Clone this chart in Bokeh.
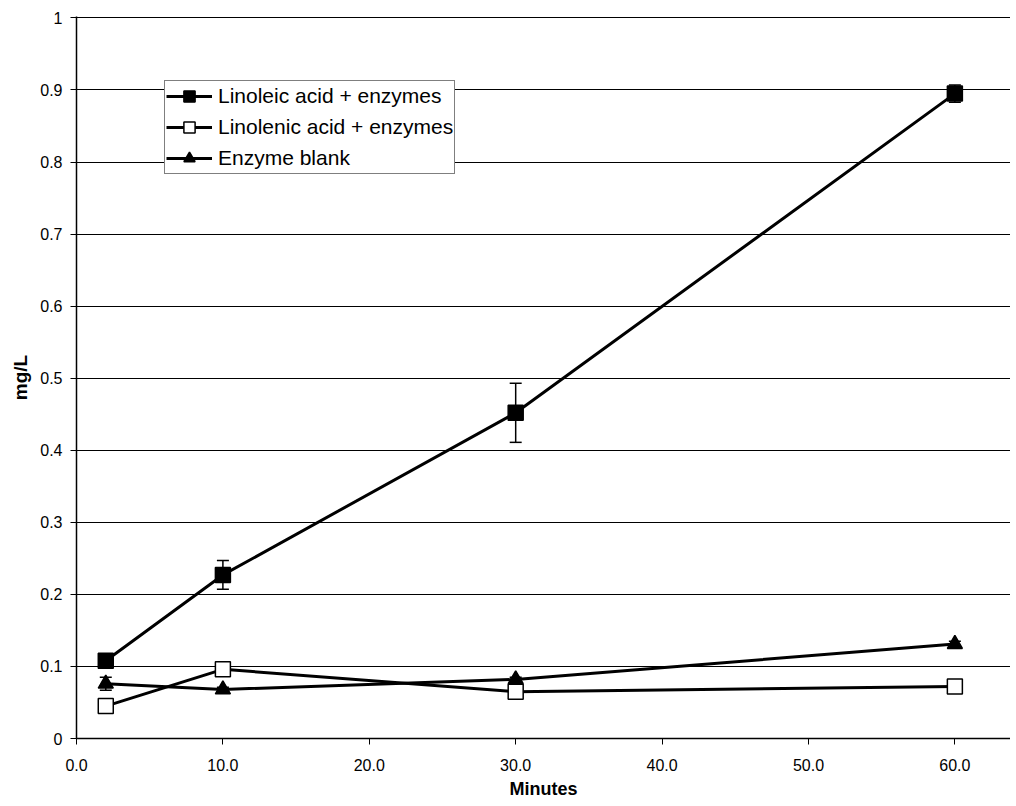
from bokeh.plotting import figure
from bokeh.models import (ColumnDataSource, Whisker, TeeHead, Legend, LegendItem,
                          Range1d, FixedTicker, NumeralTickFormatter)
from bokeh.embed import file_html
from bokeh.resources import INLINE

# ---- data ----
minutes = [2, 10, 30, 60]
linoleic = [0.108, 0.227, 0.452, 0.895]
linoleic_err = [0.004, 0.020, 0.041, 0.012]
linolenic = [0.045, 0.096, 0.065, 0.072]
linolenic_err = [0.003, 0.003, 0.003, 0.003]
blank = [0.076, 0.068, 0.082, 0.131]
blank_err = [0.009, 0.003, 0.003, 0.004]

series_names = ["Linoleic acid + enzymes", "Linolenic acid + enzymes", "Enzyme blank"]
x_title = "Minutes"
y_title = "mg/L"
x_ticks = [0, 10, 20, 30, 40, 50, 60]
y_ticks = [0, 0.1, 0.2, 0.3, 0.4, 0.5, 0.6, 0.7, 0.8, 0.9, 1.0]

FONT = "Liberation Sans"

p = figure(width=1010, height=802, output_backend="svg", toolbar_location=None,
           x_range=Range1d(0, 63.8), y_range=Range1d(0, 1.002),
           min_border_left=76, min_border_right=0, min_border_top=16,
           min_border_bottom=64)
p.outline_line_color = None
p.background_fill_color = "white"
p.border_fill_color = "white"

p.xgrid.visible = False
p.ygrid.ticker = FixedTicker(ticks=y_ticks)
p.ygrid.grid_line_color = "black"
p.ygrid.grid_line_width = 1

p.xaxis.ticker = FixedTicker(ticks=x_ticks)
p.xaxis.formatter = NumeralTickFormatter(format="0.0")
p.yaxis.ticker = FixedTicker(ticks=y_ticks)
p.yaxis.formatter = NumeralTickFormatter(format="0.[0]")

for ax in (p.xaxis[0], p.yaxis[0]):
    ax.axis_line_color = "black"
    ax.axis_line_width = 1.5
    ax.major_tick_line_color = "black"
    ax.major_tick_line_width = 1
    ax.major_tick_out = 6
    ax.major_tick_in = 0
    ax.minor_tick_line_color = None
    ax.major_label_text_font = FONT
    ax.major_label_text_font_size = "16px"
    ax.major_label_text_color = "black"
    ax.axis_label_text_font = FONT
    ax.axis_label_text_font_size = "18px"
    ax.axis_label_text_font_style = "bold"
    ax.axis_label_text_color = "black"

p.xaxis.axis_label = x_title
p.xaxis.major_label_standoff = 14
p.xaxis.axis_label_standoff = 5
p.yaxis.axis_label = y_title
p.yaxis.axis_label_text_font_size = "19px"
p.yaxis.major_label_standoff = 8
p.yaxis.axis_label_standoff = 6

def add_series(vals, errs, marker, fill):
    src = ColumnDataSource(dict(x=minutes, y=vals,
                                upper=[v + e for v, e in zip(vals, errs)],
                                lower=[v - e for v, e in zip(vals, errs)]))
    w = Whisker(base="x", upper="upper", lower="lower", source=src,
                line_color="black", line_width=1.5, level="underlay",
                upper_head=TeeHead(size=12, line_width=1.5, line_color="black"),
                lower_head=TeeHead(size=12, line_width=1.5, line_color="black"))
    p.add_layout(w)
    ln = p.line("x", "y", source=src, line_color="black", line_width=3)
    sc = p.scatter("x", "y", source=src, marker=marker, size=15,
                   fill_color=fill, line_color="black", line_width=1.5)
    return ln, sc

r1 = add_series(linoleic, linoleic_err, "square", "black")
r2 = add_series(linolenic, linolenic_err, "square", "white")
r3 = add_series(blank, blank_err, "triangle", "black")

legend = Legend(items=[LegendItem(label=series_names[0], renderers=list(r1)),
                       LegendItem(label=series_names[1], renderers=list(r2)),
                       LegendItem(label=series_names[2], renderers=list(r3))],
                location=(88, 564),
                border_line_color="black", border_line_width=1,
                background_fill_color="white", background_fill_alpha=1,
                padding=1, spacing=3, margin=0,
                glyph_height=28, glyph_width=46, label_height=28,
                label_standoff=6, label_text_font=FONT,
                label_text_font_size="21px", label_text_color="black")
p.add_layout(legend)

open("out.html", "w").write(file_html(p, INLINE))
